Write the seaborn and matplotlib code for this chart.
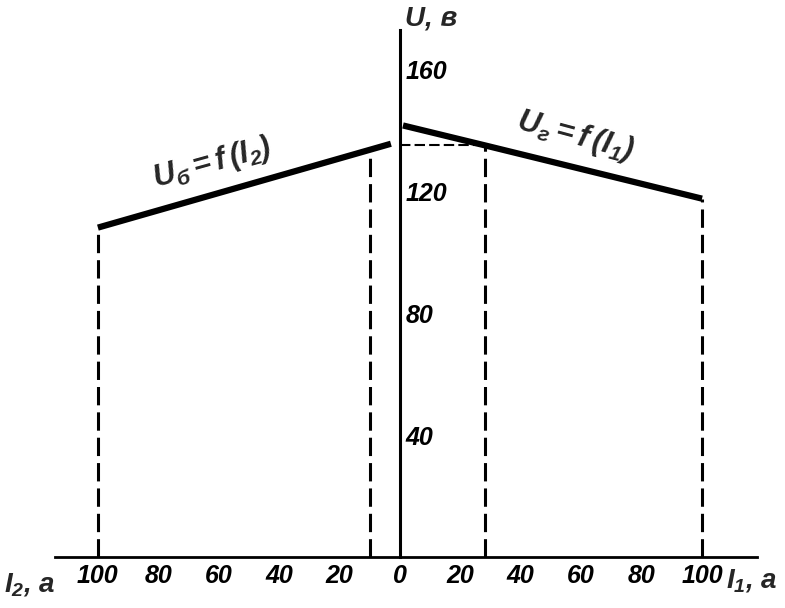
import numpy as np
import pandas as pd
import matplotlib
matplotlib.use('Agg')
import matplotlib.pyplot as plt
from matplotlib import font_manager as fm
import seaborn as sns

# Load curves
i2_vals = [100, 3]              # I2, a (left side)
u_b_vals = [108, 135.5]         # U_б, в
i1_vals = [1, 28, 100]          # I1, a (right side)
u_g_vals = [141.5, 135, 117.5]  # U_г, в

# dashed guides: currents and voltage level
guide_i2 = [100, 10]
guide_i2_top = [108, 133.5]
guide_i1 = [28, 100]
guide_i1_top = [135, 117.5]
u_level = 135

x_ticks = [-100, -80, -60, -40, -20, 0, 20, 40, 60, 80, 100]
y_major = [40, 80, 120, 160]
y_minor = [20, 60, 100, 140]

sns.set_style('white')

# narrow italic font if one is there
names = {f.name for f in fm.fontManager.ttflist}
if 'DejaVu Sans Condensed' in names:
    main_font = 'DejaVu Sans Condensed'
    fs = 20
else:
    main_font = 'Liberation Sans'
    fs = 18
plt.rcParams['font.family'] = [main_font, 'DejaVu Sans']
plt.rcParams['font.style'] = 'italic'
plt.rcParams['font.weight'] = 'bold'
plt.rcParams['mathtext.fontset'] = 'custom'
for key in ['mathtext.it', 'mathtext.rm', 'mathtext.bf']:
    plt.rcParams[key] = main_font + ':italic:bold'

df_left = pd.DataFrame({'x': [-v for v in i2_vals], 'u': u_b_vals})
df_right = pd.DataFrame({'x': i1_vals, 'u': u_g_vals})

fig = plt.figure(figsize=(7.85, 6.08), dpi=100)
ax = fig.add_axes([55 / 785, 51 / 608, 702 / 785, 527 / 608])

sns.lineplot(data=df_left, x='x', y='u', color='black', lw=4.5, sort=False,
             estimator=None, ax=ax, solid_capstyle='butt')
sns.lineplot(data=df_right, x='x', y='u', color='black', lw=4.5, sort=False,
             estimator=None, ax=ax, solid_capstyle='butt')

dash = (0, (6, 2.3))
ax.vlines([-v for v in guide_i2], 0, guide_i2_top, colors='black', lw=2.2, linestyles=[dash])
ax.vlines(guide_i1, 0, guide_i1_top, colors='black', lw=2.2, linestyles=[dash])
ax.hlines(u_level, 0, guide_i1[0], colors='black', lw=1.5, linestyles=[(0, (5, 2))])

ax.set_xlim(-114.2, 118.2)
ax.set_ylim(0, 172.8)
ax.set_xlabel('')
ax.set_ylabel('')

for s in ['top', 'right']:
    ax.spines[s].set_visible(False)
ax.spines['left'].set_position(('data', 0))
ax.spines['bottom'].set_position(('data', 0))
ax.spines['left'].set_linewidth(2.2)
ax.spines['bottom'].set_linewidth(2.0)
ax.spines['left'].set_color('black')
ax.spines['bottom'].set_color('black')

ax.set_xticks(x_ticks)
ax.set_xticklabels([str(abs(t)) for t in x_ticks])
ax.tick_params(axis='x', direction='in', length=6, width=1.5, pad=5,
               labelsize=fs, colors='black')

ax.set_yticks(y_major)
ax.set_yticks(y_minor, minor=True)
ax.set_yticklabels([str(t) for t in y_major])
ax.tick_params(axis='y', which='both', direction='in', length=4, width=1.5,
               pad=-4, labelsize=fs, colors='black')
for lab in ax.get_yticklabels():
    lab.set_ha('left')

# curve captions along the lines
ax.text(-62, 129, '$U_{б}=f\\,(I_2)$', fontsize=fs + 4, rotation=15.5,
        ha='center', va='center', rotation_mode='anchor')
ax.text(58, 138, '$U_{г}=f\\,(I_1)$', fontsize=fs + 4, rotation=-15,
        ha='center', va='center', rotation_mode='anchor')

fig.text(405 / 785, 1 - 18 / 608, 'U, в', fontsize=fs + 2, ha='left', va='center')
fig.text(4 / 785, 1 - 585 / 608, '$I_2$, а', fontsize=fs + 2, ha='left', va='center')
fig.text(726 / 785, 1 - 580 / 608, '$I_1$, а', fontsize=fs + 2, ha='left', va='center')

fig.savefig('out.png', dpi=100)
